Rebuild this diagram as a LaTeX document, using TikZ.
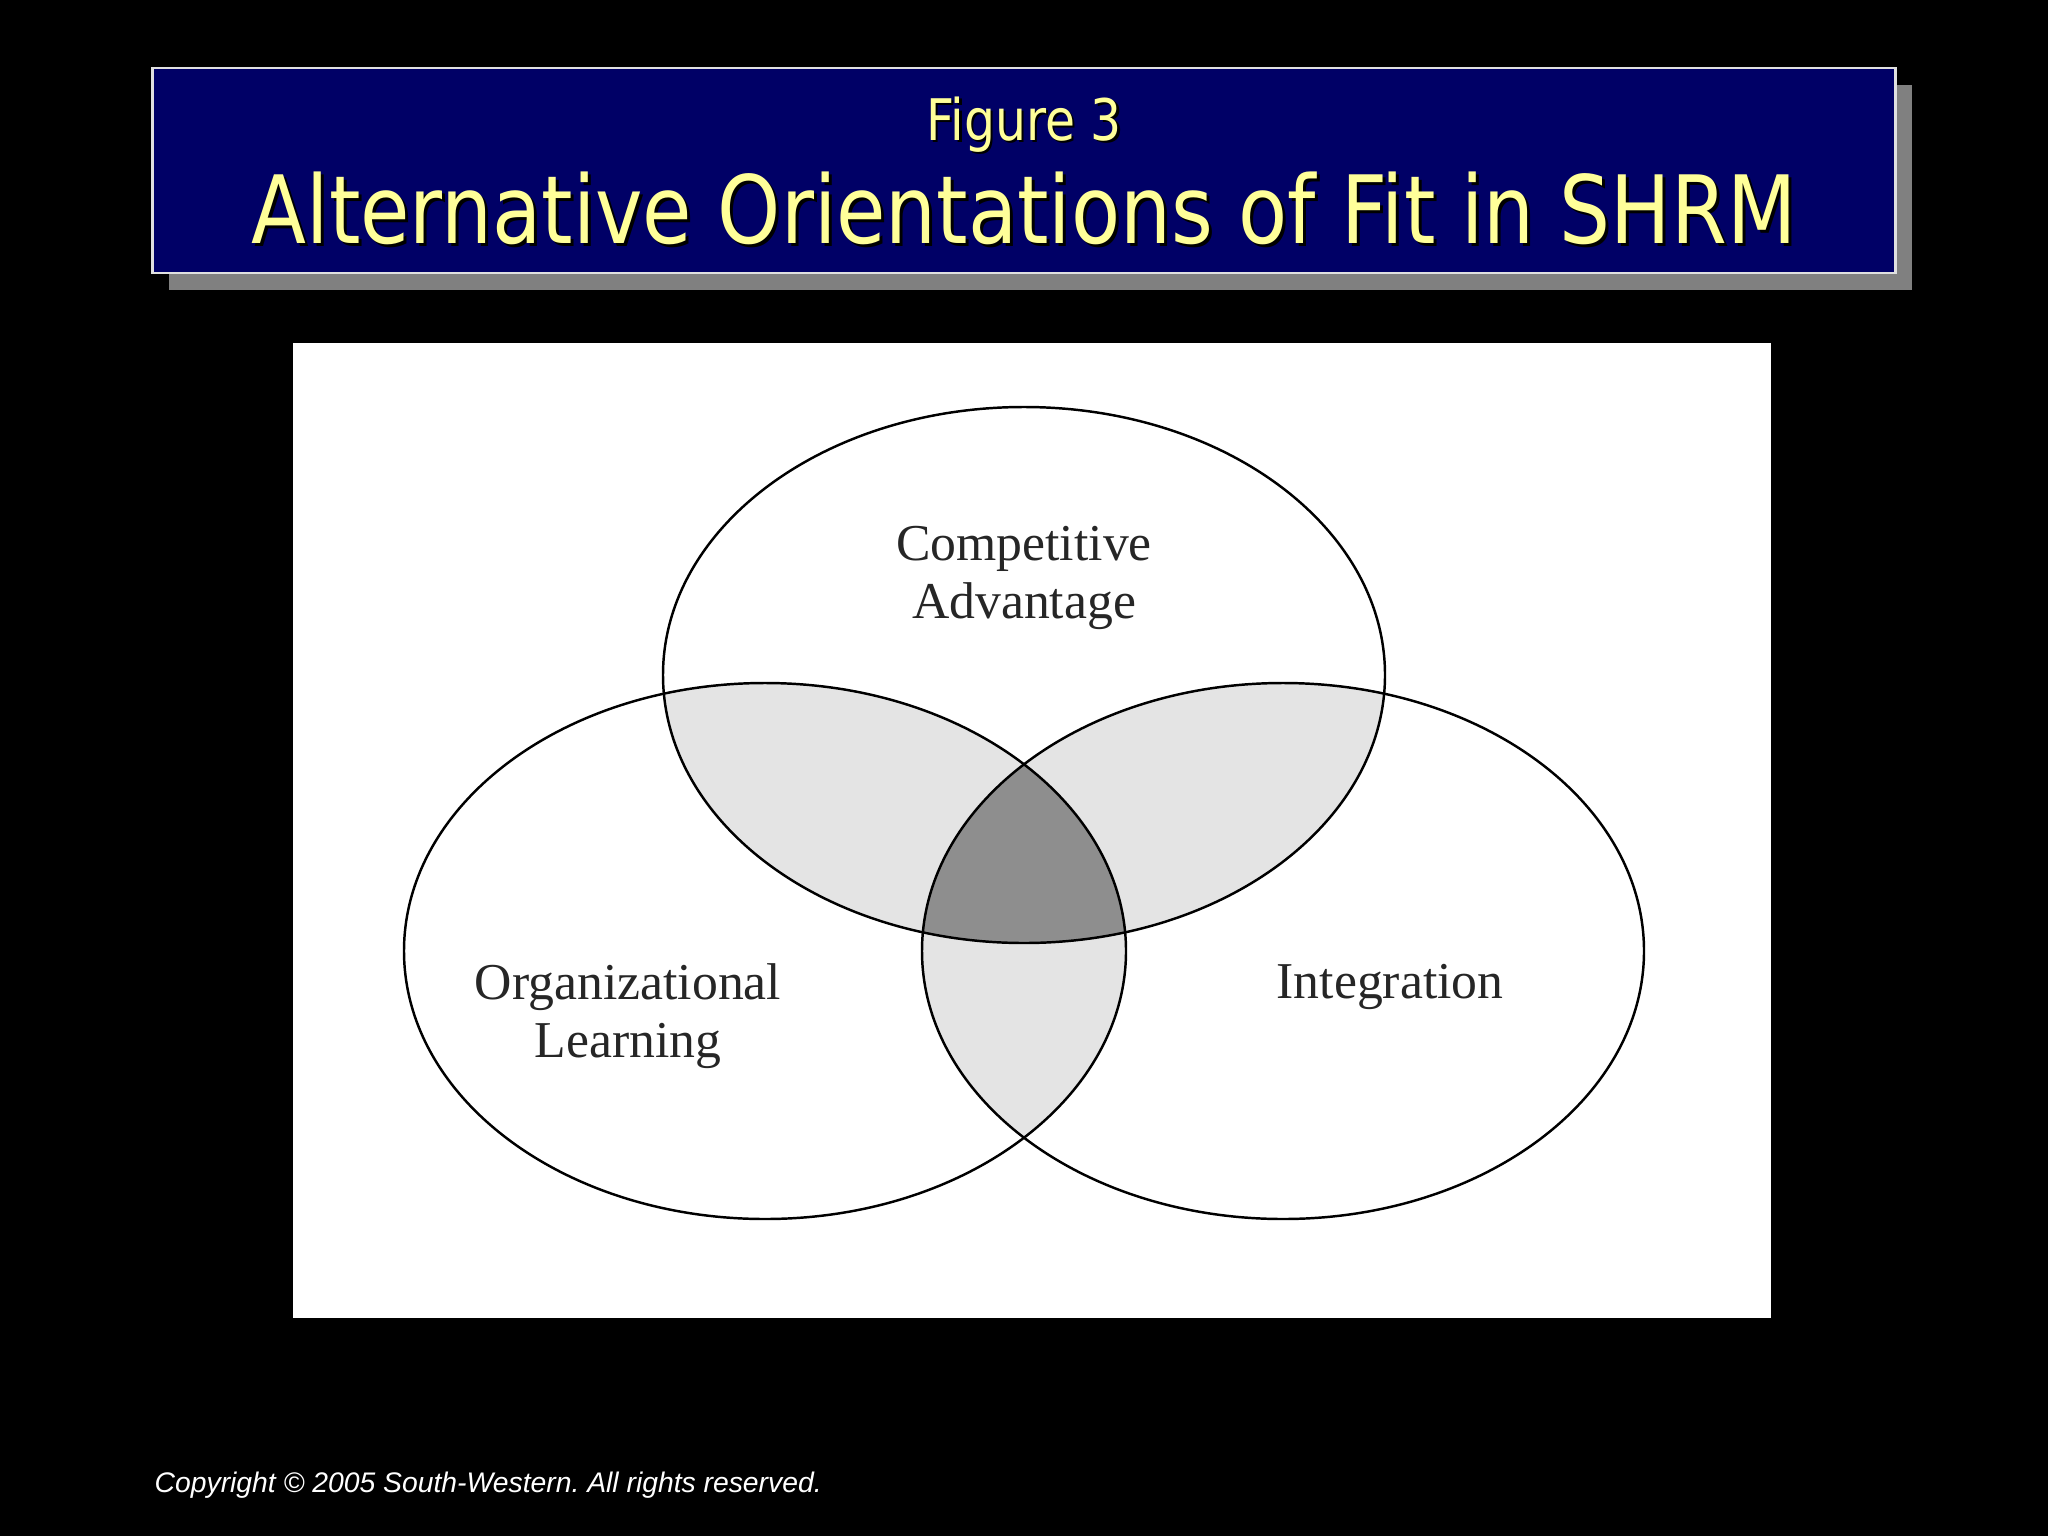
\documentclass[tikz,border=0pt]{standalone}
\usepackage{fontspec}
\setmainfont{Liberation Serif}
\newfontfamily\headfont[FakeStretch=0.852]{DejaVu Sans}
\newfontfamily\notefont{Liberation Sans}
\usetikzlibrary{positioning,shadows}
\definecolor{slidenavy}{RGB}{0,0,102}
\definecolor{headyellow}{RGB}{255,255,153}
\definecolor{dropgray}{RGB}{128,128,128}
\definecolor{lapgray}{RGB}{228,228,228}
\definecolor{coregray}{RGB}{142,142,142}
\tikzset{
    banner/.style = {draw=white!88!black, line width=0.6pt, fill=slidenavy, rectangle,
        minimum width=17.42cm, minimum height=2.05cm, inner sep=0pt,
        drop shadow={shadow xshift=0.16cm, shadow yshift=-0.17cm, fill=dropgray, opacity=1}},
    panel/.style = {fill=white, rectangle,
        minimum width=14.78cm, minimum height=9.75cm, inner sep=0pt},
    headline/.style = {text=headyellow, anchor=base, inner sep=0pt},
    headshade/.style = {text=black, anchor=base, inner sep=0pt},
    setlabel/.style = {align=center, text=black!85,
        font=\fontsize{14.7}{16.4}\selectfont},
    setline/.style = {draw=black, line width=0.7pt},
    note/.style = {text=white, anchor=west, inner sep=0pt,
        font=\notefont\itshape\fontsize{8.05}{10}\selectfont\frenchspacing}
}
\def\advset{(1024,675) ellipse [x radius=361, y radius=268]}
\def\learnset{(765,951) ellipse [x radius=361, y radius=268]}
\def\integset{(1283,951) ellipse [x radius=361, y radius=268]}

\begin{document}
\begin{tikzpicture}[x=0.01cm, y=-0.01cm]
    \fill[black] (0,0) rectangle (2048,1536);
    \useasboundingbox (0,0) rectangle (2048,1536);
    % title banner
    \node [banner, name=banner] at (1024,170.5) {};
    \node [headshade, name=fignoshade, font=\headfont\fontsize{16.3}{18}\selectfont] at (1026.5,142.5) {Figure 3};
    \node [headline, name=figno, font=\headfont\fontsize{16.3}{18}\selectfont] at (1024,140) {Figure 3};
    \node [headshade, name=titleshade, font=\headfont\fontsize{26.8}{30}\selectfont] at (1027,246) {Alternative Orientations of Fit in SHRM};
    \node [headline, name=title, font=\headfont\fontsize{26.8}{30}\selectfont] at (1024,243) {Alternative Orientations of Fit in SHRM};
    % venn panel
    \node [panel, name=panel] at (1032,830.5) {};
    \begin{scope}
        \clip \advset;
        \fill[lapgray] \learnset;
        \fill[lapgray] \integset;
    \end{scope}
    \begin{scope}
        \clip \learnset;
        \fill[lapgray] \integset;
    \end{scope}
    \begin{scope}
        \clip \advset;
        \clip \learnset;
        \fill[coregray] \integset;
    \end{scope}
    \foreach \s in {\advset,\learnset,\integset}{
        \draw[setline] \s;
    }
    \node [setlabel, name=advlabel] at (1024,578) {Competitive\\Advantage};
    \node [setlabel, name=learnlabel] at (628,1016) {Organizational\\Learning};
    \node [setlabel, name=integlabel] at (1390,987) {Integration};
    \node [note, name=copyright] at (154,1485) {Copyright \textcopyright{} 2005 South-Western. All rights reserved.};
\end{tikzpicture}
\end{document}
